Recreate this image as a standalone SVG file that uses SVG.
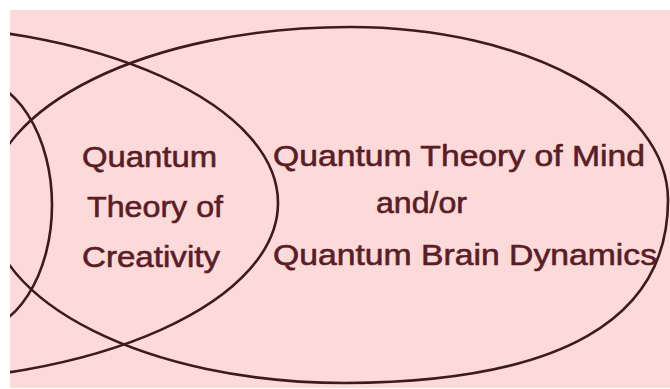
<svg xmlns="http://www.w3.org/2000/svg" width="670" height="389" viewBox="0 0 670 389">
<style>
.bg{fill:#fddada}
.ring{fill:none;stroke:#3f1a1c;stroke-width:2.6}
.lbl{font-family:"Liberation Sans",Arial,sans-serif;font-size:29.5px;fill:#5a1d26;stroke:#5a1d26;stroke-width:0.6}
</style>
<rect x="0" y="0" width="670" height="389" fill="#ffffff"/>
<rect class="bg" x="10" y="10" width="660" height="378"/>
<g id="left-set">
<ellipse class="ring" cx="-30" cy="205" rx="82" ry="127.5"/>
</g>
<g id="quantum-creativity">
<ellipse class="ring" cx="-120" cy="203" rx="398" ry="179"/>
<text class="lbl" x="82" y="167" textLength="135" lengthAdjust="spacingAndGlyphs">Quantum</text>
<text class="lbl" x="87" y="217" textLength="136" lengthAdjust="spacingAndGlyphs">Theory of</text>
<text class="lbl" x="82" y="267" textLength="138" lengthAdjust="spacingAndGlyphs">Creativity</text>
</g>
<g id="quantum-mind">
<path class="ring" d="M350,27 C526,27 668,104 668,200 C668,320 560,382 345,383 C149,383 -12,303 -12,204 C-12,106 150,27 350,27 Z"/>
<text class="lbl" x="273" y="166" textLength="372" lengthAdjust="spacingAndGlyphs">Quantum Theory of Mind</text>
<text class="lbl" x="376" y="213" textLength="91" lengthAdjust="spacingAndGlyphs">and/or</text>
<text class="lbl" x="273" y="265" textLength="384" lengthAdjust="spacingAndGlyphs">Quantum Brain Dynamics</text>
</g>
<g id="connectors"/>
<rect x="0" y="0" width="670" height="10" fill="#ffffff"/>
<rect x="0" y="0" width="10" height="389" fill="#ffffff"/>
</svg>
